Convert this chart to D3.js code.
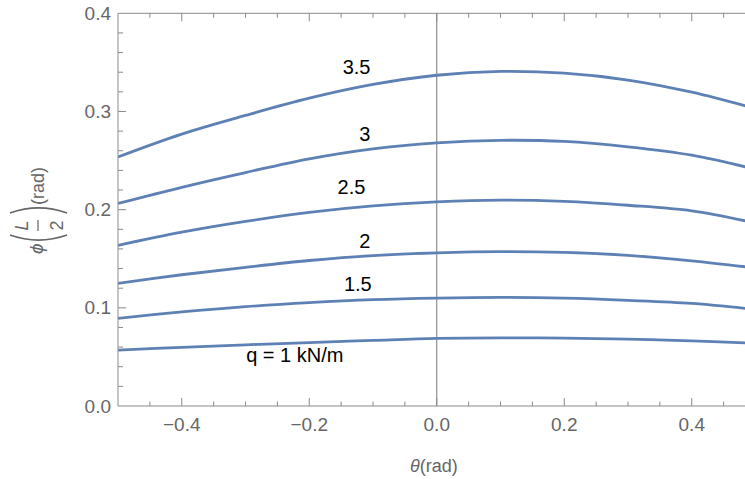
<!DOCTYPE html>
<html>
<head>
<meta charset="utf-8">
<script src="https://cdn.jsdelivr.net/npm/d3@7"></script>
<style>
  body { margin: 0; background: #fff; }
  svg { display: block; font-family: "Liberation Sans", Arial, sans-serif; }
</style>
</head>
<body>
<svg id="chart" width="745" height="479"></svg>
<script>
// theta values (rad) where the curves were read
const theta = [-0.5, -0.4, -0.3, -0.2, -0.1, 0, 0.1, 0.2, 0.3, 0.4, 0.484];

// phi(L/2) for each load q (kN/m)
const loads = ["1", "1.5", "2", "2.5", "3", "3.5"];
const phi_q1   = [0.057, 0.0598, 0.0623, 0.0646, 0.0668, 0.0688, 0.0694, 0.0691, 0.0681, 0.0664, 0.0643];
const phi_q1_5 = [0.0893, 0.0958, 0.1012, 0.1053, 0.1083, 0.1099, 0.1106, 0.1098, 0.1076, 0.1045, 0.0994];
const phi_q2   = [0.1249, 0.1337, 0.1413, 0.1482, 0.1532, 0.156, 0.1573, 0.1565, 0.1535, 0.1479, 0.1418];
const phi_q2_5 = [0.1636, 0.177, 0.188, 0.1972, 0.2038, 0.2079, 0.2097, 0.2085, 0.2045, 0.1988, 0.1886];
const phi_q3   = [0.2063, 0.2228, 0.2378, 0.2518, 0.262, 0.268, 0.2706, 0.2695, 0.264, 0.2555, 0.2436];
const phi_q3_5 = [0.2537, 0.277, 0.296, 0.3135, 0.3275, 0.3369, 0.3408, 0.339, 0.332, 0.3196, 0.3057];
const series = [phi_q1, phi_q1_5, phi_q2, phi_q2_5, phi_q3, phi_q3_5];

// curve labels and where they sit (data units)
const labelText = ["q = 1 kN/m", "1.5", "2", "2.5", "3", "3.5"];
const labelTheta = [-0.299, -0.102, -0.104, -0.112, -0.104, -0.104];
const labelPhi = [0.0448, 0.1174, 0.1607, 0.2157, 0.270, 0.338];
const labelAnchor = ["start", "end", "end", "end", "end", "end"];

const xMajor = [-0.4, -0.2, 0.0, 0.2, 0.4];
const yMajor = [0.0, 0.1, 0.2, 0.3, 0.4];

const W = 745, H = 479;
const plotLeft = 118, plotTop = 13.3, plotBottom = 406;

const x = d3.scaleLinear().domain([-0.5, 0.5]).range([plotLeft, plotLeft + 637.5]);
const y = d3.scaleLinear().domain([0, 0.4]).range([plotBottom, plotTop]);

const svg = d3.select("#chart");
const frameColor = "#8a8a8a";
const labelColor = "#666";

svg.append("clipPath").attr("id", "plotclip")
  .append("rect").attr("x", plotLeft).attr("y", plotTop)
  .attr("width", W - plotLeft).attr("height", plotBottom - plotTop);

// vertical axis line at theta = 0
svg.append("line")
  .attr("x1", x(0)).attr("x2", x(0)).attr("y1", plotTop).attr("y2", plotBottom)
  .attr("stroke", "#777").attr("stroke-width", 1);

// curves
const line = d3.line()
  .x((d, i) => x(theta[i]))
  .y(d => y(d))
  .curve(d3.curveCatmullRom.alpha(0.5));

svg.append("g").attr("clip-path", "url(#plotclip)")
  .selectAll("path")
  .data(series)
  .join("path")
  .attr("d", d => line(d))
  .attr("fill", "none")
  .attr("stroke", "#5E81B5")
  .attr("stroke-width", 2.8);

// frame
const g = svg.append("g");
g.append("line").attr("x1", plotLeft).attr("x2", W).attr("y1", plotBottom).attr("y2", plotBottom)
  .attr("stroke", frameColor);
g.append("line").attr("x1", plotLeft).attr("x2", W).attr("y1", plotTop).attr("y2", plotTop)
  .attr("stroke", frameColor);
g.append("line").attr("x1", plotLeft).attr("x2", plotLeft).attr("y1", plotTop).attr("y2", plotBottom)
  .attr("stroke", frameColor);

// x ticks (bottom and top, inward)
const xTicks = d3.range(-0.45, 0.5, 0.05).map(v => +v.toFixed(2));
xTicks.forEach(v => {
  const major = xMajor.some(m => Math.abs(m - v) < 1e-6);
  const len = major ? 8 : 4.5;
  g.append("line").attr("x1", x(v)).attr("x2", x(v)).attr("y1", plotBottom).attr("y2", plotBottom - len)
    .attr("stroke", frameColor);
  g.append("line").attr("x1", x(v)).attr("x2", x(v)).attr("y1", plotTop).attr("y2", plotTop + len)
    .attr("stroke", frameColor);
});
// y ticks
const yTicks = d3.range(0.02, 0.4, 0.02).map(v => +v.toFixed(2));
yTicks.forEach(v => {
  const major = yMajor.some(m => Math.abs(m - v) < 1e-6);
  const len = major ? 8 : 5;
  g.append("line").attr("x1", plotLeft).attr("x2", plotLeft + len).attr("y1", y(v)).attr("y2", y(v))
    .attr("stroke", frameColor);
});

// tick labels
g.selectAll("text.xl").data(xMajor).join("text")
  .attr("class", "xl")
  .attr("x", d => x(d)).attr("y", 430.5)
  .attr("text-anchor", "middle")
  .attr("font-size", 19).attr("fill", labelColor)
  .text(d => d3.format(".1f")(d).replace("-", "\u2212"));

g.selectAll("text.yl").data(yMajor).join("text")
  .attr("class", "yl")
  .attr("x", plotLeft - 7).attr("y", d => y(d)).attr("dy", "0.35em")
  .attr("text-anchor", "end")
  .attr("font-size", 19).attr("fill", labelColor)
  .text(d => d3.format(".1f")(d));

// x axis title
const xt = svg.append("text")
  .attr("x", 410).attr("y", 472)
  .attr("font-size", 18).attr("fill", labelColor);
xt.append("tspan").attr("font-style", "italic").text("\u03b8");
xt.append("tspan").text("(rad)");

// y axis title: phi (L/2) (rad), rotated
const yt = svg.append("g").attr("transform", "translate(43,254) rotate(-90)")
  .attr("fill", labelColor);
yt.append("text").attr("x", 0).attr("y", 0).attr("font-size", 19).attr("font-style", "italic").text("\u03d5");
const paren = (x0, dir) => {
  const t = -33, b = 24, bulge = 6 * dir;
  return `M${x0},${t} Q${x0 - bulge * 1.7},${(t + b) / 2} ${x0},${b}`;
};
yt.append("path").attr("d", paren(19, 1)).attr("fill", "none").attr("stroke", labelColor).attr("stroke-width", 1.7);
yt.append("path").attr("d", paren(41, -1)).attr("fill", "none").attr("stroke", labelColor).attr("stroke-width", 1.7);
yt.append("text").attr("x", 28.5).attr("y", -15).attr("text-anchor", "middle")
  .attr("font-size", 18).attr("font-style", "italic").text("L");
yt.append("line").attr("x1", 23).attr("x2", 34).attr("y1", -5).attr("y2", -5)
  .attr("stroke", labelColor).attr("stroke-width", 1.2);
yt.append("text").attr("x", 28.5).attr("y", 20).attr("text-anchor", "middle")
  .attr("font-size", 18).text("2");
yt.append("text").attr("x", 49).attr("y", 1).attr("font-size", 18).text("(rad)");

// curve labels
svg.selectAll("text.cl").data(labelText).join("text")
  .attr("class", "cl")
  .attr("x", (d, i) => x(labelTheta[i]))
  .attr("y", (d, i) => y(labelPhi[i]))
  .attr("text-anchor", (d, i) => labelAnchor[i])
  .attr("font-size", 20).attr("fill", "#000")
  .text(d => d);
</script>
</body>
</html>
